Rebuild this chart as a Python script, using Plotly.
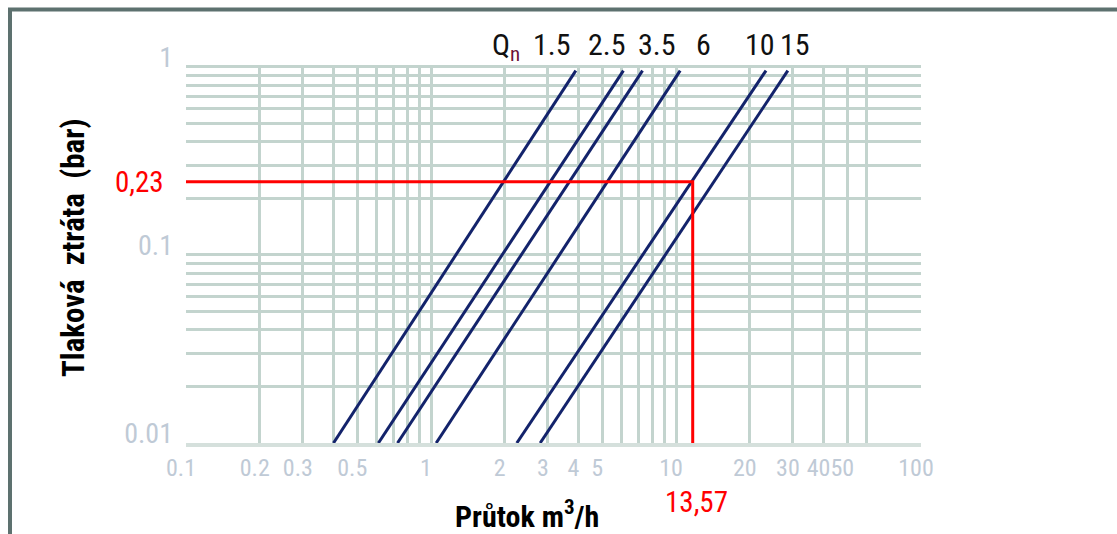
import math
import plotly.graph_objects as go

# ---------------- data ----------------
qn_labels = ["1.5", "2.5", "3.5", "6", "10", "15"]          # nominal flow Qn
pressure_ends = [0.01, 0.956]                                 # bar, ends of each curve
flow_at_low = [0.40, 0.61, 0.73, 1.05, 2.24, 2.79]            # m3/h at 0.01 bar
flow_at_high = [3.9, 6.1, 7.3, 10.4, 23.3, 28.6]              # m3/h at 0.956 bar

x_tick_vals = [0.1, 0.2, 0.3, 0.5, 1, 2, 3, 4, 5, 10, 20, 30, 40, 50, 100]
x_tick_text = ["0.1", "0.2", "0.3", "0.5", "1", "2", "3", "4", "5",
               "10", "20", "30", "40", "50", "100"]
x_grid_vals = [0.2, 0.3, 0.4, 0.5, 0.6, 0.7, 0.8, 0.9, 1,
               2, 3, 4, 5, 6, 7, 8, 9, 10, 20, 30, 40, 50, 60]
y_tick_vals = [0.01, 0.1, 1]
y_tick_text = ["0.01", "0.1", "1"]
y_grid_vals = [0.02, 0.03, 0.04, 0.05, 0.06, 0.07, 0.08, 0.09,
               0.2, 0.3, 0.4, 0.5, 0.6, 0.7, 0.8, 0.9]

# operating point marked in red (position as drawn, labels as printed)
marker_flow = 11.7
marker_pressure = 0.245
marker_flow_text = "13,57"
marker_pressure_text = "0,23"

# ---------------- styling ----------------
W, H = 1117, 534
PL, PR, PT, PB = 186, 921, 65, 443        # plot area in px
NARROW = "Liberation Sans Narrow, Arial Narrow, Roboto Condensed, DejaVu Sans Condensed, sans-serif"
GRID = "#c3d4ce"
TICK = "#bfcad6"
CURVE = "#13236b"
RED = "#ff0000"
label_shift = [-24, -16, 14, 23, -6, 7]   # px offset of Qn labels from curve tops


def px_x(p):
    return (p - PL) / (PR - PL)


def px_y(p):
    return (PB - p) / (PB - PT)


fig = go.Figure()
for lo, hi in zip(flow_at_low, flow_at_high):
    fig.add_trace(go.Scatter(x=[lo, hi], y=pressure_ends, mode="lines",
                             line=dict(color=CURVE, width=3),
                             hoverinfo="skip", showlegend=False))

fig.add_trace(go.Scatter(x=[x_tick_vals[0], marker_flow, marker_flow],
                         y=[marker_pressure, marker_pressure, y_tick_vals[0]],
                         mode="lines", line=dict(color=RED, width=3),
                         hoverinfo="skip", showlegend=False))

annotations = []
for lab, hi, sh in zip(qn_labels, flow_at_high, label_shift):
    annotations.append(dict(x=math.log10(hi), xref="x", y=px_y(45), yref="paper",
                            text=lab, showarrow=False, xshift=sh,
                            xanchor="center", yanchor="middle",
                            font=dict(family=NARROW, size=30, color="#111111")))
annotations.append(dict(x=px_x(506), xref="paper", y=px_y(47), yref="paper",
                        text="Q<sub><span style='color:#6e1238'>n</span></sub>",
                        showarrow=False, xanchor="center", yanchor="middle",
                        font=dict(family=NARROW, size=30, color="#111111")))
annotations.append(dict(x=px_x(74), xref="paper", y=px_y(248), yref="paper",
                        text="<b>Tlaková  ztráta  (bar)</b>", textangle=-90,
                        showarrow=False, xanchor="center", yanchor="middle",
                        font=dict(family=NARROW, size=31, color="#000000")))
annotations.append(dict(x=px_x(527), xref="paper", y=px_y(514), yref="paper",
                        text="<b>Průtok m<sup>3</sup>/h</b>",
                        showarrow=False, xanchor="center", yanchor="middle",
                        font=dict(family=NARROW, size=30, color="#000000")))
annotations.append(dict(x=px_x(139), xref="paper", y=math.log10(marker_pressure), yref="y",
                        text=marker_pressure_text, showarrow=False,
                        xanchor="center", yanchor="middle",
                        font=dict(family=NARROW, size=29, color=RED)))
annotations.append(dict(x=math.log10(marker_flow), xref="x", y=px_y(502), yref="paper",
                        text=marker_flow_text, showarrow=False, xshift=4,
                        xanchor="center", yanchor="middle",
                        font=dict(family=NARROW, size=29, color=RED)))

frame = dict(color="#5d716f", width=4)
shapes = [
    dict(type="line", xref="paper", yref="paper", x0=px_x(10), x1=px_x(10),
         y0=px_y(8), y1=px_y(540), line=frame, layer="above"),
    dict(type="line", xref="paper", yref="paper", x0=px_x(8), x1=px_x(1125),
         y0=px_y(9.5), y1=px_y(9.5), line=frame, layer="above"),
]

fig.update_layout(
    width=W, height=H, template="none",
    margin=dict(l=PL, r=W - PR, t=PT, b=H - PB, pad=0),
    paper_bgcolor="white", plot_bgcolor="white", showlegend=False,
    font=dict(family=NARROW),
    annotations=annotations, shapes=shapes,
    xaxis=dict(type="log", range=[-1, 2], tickmode="array",
               tickvals=x_tick_vals, ticktext=x_tick_text, tickangle=0,
               showgrid=False, zeroline=False, ticks="",
               showline=True, linecolor="#d5e0dc", linewidth=4,
               ticklabelstandoff=0, ticklabelshift=-5,
               tickfont=dict(family=NARROW, size=24, color=TICK),
               minor=dict(tickmode="array", tickvals=x_grid_vals, showgrid=True,
                          gridcolor=GRID, gridwidth=2.5, ticks=""),
               fixedrange=True),
    yaxis=dict(type="log", range=[-2, 0.01], tickmode="array",
               tickvals=y_tick_vals, ticktext=y_tick_text,
               showgrid=True, gridcolor=GRID, gridwidth=3, zeroline=False,
               ticks="", showline=False, ticklabelstandoff=12, ticklabelshift=-10,
               tickfont=dict(family=NARROW, size=28, color=TICK),
               minor=dict(tickmode="array", tickvals=y_grid_vals, showgrid=True,
                          gridcolor=GRID, gridwidth=2.5, ticks=""),
               fixedrange=True),
)

fig.write_html("out.html", config={"displayModeBar": False},
               post_script="document.body.style.margin='0px';"
                           "document.body.style.overflow='hidden';")
